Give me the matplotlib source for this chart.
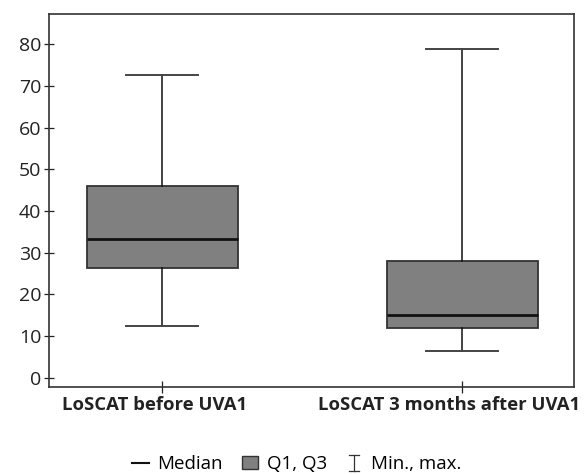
import matplotlib
matplotlib.use('Agg')
import matplotlib.pyplot as plt
import matplotlib.transforms as mtransforms
from matplotlib.lines import Line2D
from matplotlib.patches import Patch
from matplotlib.legend_handler import HandlerBase

plt.rcParams['font.family'] = ['Open Sans', 'DejaVu Sans']

LABELS = ['LoSCAT before UVA1', 'LoSCAT 3 months after UVA1']
MINS = [12.5, 6.5]
Q1S = [26.3, 12.0]
MEDIANS = [33.2, 15.2]
Q3S = [46.0, 28.0]
MAXS = [72.6, 78.8]
YTICKS = [0, 10, 20, 30, 40, 50, 60, 70, 80]

BOX_FILL = '#808080'
EDGE = '#333333'


class MinMaxHandler(HandlerBase):
    # small I-beam symbol for the whisker entry
    def create_artists(self, legend, orig_handle, xd, yd, width, height, fontsize, trans):
        cx = xd + width / 2
        top = yd + height * 1.05
        bot = yd - height * 0.15
        cap = width * 0.3
        kw = dict(color='#333333', linewidth=0.9, transform=trans)
        return [Line2D([cx, cx], [bot, top], **kw),
                Line2D([cx - cap, cx + cap], [top, top], **kw),
                Line2D([cx - cap, cx + cap], [bot, bot], **kw)]


fig = plt.figure(figsize=(5.84, 4.75), dpi=100)
ax = fig.add_axes([0.084, 0.185, 0.899, 0.7855])

stats = []
for i in range(len(LABELS)):
    stats.append({'label': LABELS[i], 'whislo': MINS[i], 'q1': Q1S[i], 'med': MEDIANS[i],
                  'q3': Q3S[i], 'whishi': MAXS[i], 'fliers': []})

ax.bxp(stats, positions=[1, 2], widths=0.503, patch_artist=True, showfliers=False,
       boxprops=dict(facecolor=BOX_FILL, edgecolor=EDGE, linewidth=1.3),
       medianprops=dict(color='#111111', linewidth=2.0),
       whiskerprops=dict(color='#111111', linewidth=1.1),
       capprops=dict(color='#444444', linewidth=1.4),
       capwidths=0.24)

ax.set_xlim(0.623, 2.373)
ax.set_ylim(-2.2, 87.2)
ax.set_yticks(YTICKS)
ax.tick_params(axis='y', direction='inout', length=7, width=0.9, labelsize=14, colors='#222222', pad=2)
ax.tick_params(axis='x', direction='inout', length=9, width=0.9, labelsize=13.3, colors='#222222', pad=2)
for lab, dx in zip(ax.get_xticklabels(), [-8, -13]):
    lab.set_fontweight('bold')
    lab.set_transform(lab.get_transform() + mtransforms.ScaledTranslation(dx / 100, 0, fig.dpi_scale_trans))
for s in ax.spines.values():
    s.set_linewidth(1.2)
    s.set_color('#333333')

minmax = Line2D([], [])
handles = [Line2D([], [], color='#111111', linewidth=1.5),
           Patch(facecolor=BOX_FILL, edgecolor=EDGE, linewidth=1),
           minmax]
fig.legend(handles, ['Median', 'Q1, Q3', 'Min., max.'], loc='center',
           bbox_to_anchor=(0.508, 0.023), ncol=3, frameon=False, fontsize=13.5,
           handlelength=0.9, handletextpad=0.45, columnspacing=1.0,
           borderpad=0.1, handler_map={minmax: MinMaxHandler()})

fig.savefig('out.png', dpi=100)
